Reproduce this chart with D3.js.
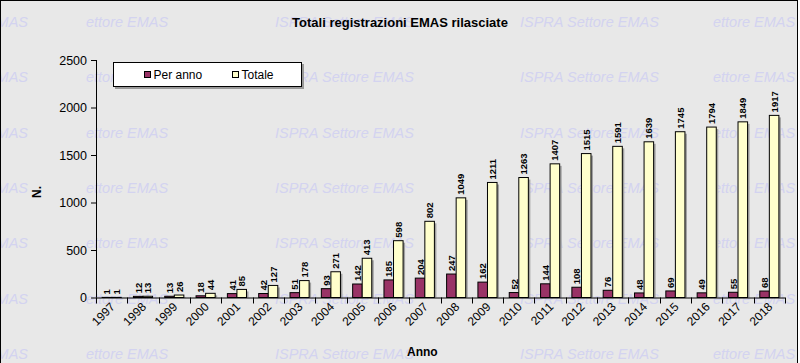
<!DOCTYPE html>
<html>
<head>
<meta charset="utf-8">
<script src="https://cdn.jsdelivr.net/npm/d3@7"></script>
<style>
  body { margin: 0; background: #fff; }
  svg { display: block; font-family: "Liberation Sans", Arial, sans-serif; }
</style>
</head>
<body>
<script>
const years = ["1997", "1998", "1999", "2000", "2001", "2002", "2003", "2004", "2005", "2006", "2007",
  "2008", "2009", "2010", "2011", "2012", "2013", "2014", "2015", "2016", "2017", "2018"];
const perAnno = [1, 12, 13, 18, 41, 42, 51, 93, 142, 185, 204, 247, 162, 52, 144, 108, 76, 48, 69, 49, 55, 68];
const totale = [1, 13, 26, 44, 85, 127, 178, 271, 413, 598, 802, 1049, 1211, 1263, 1407, 1515, 1591, 1639, 1745, 1794, 1849, 1917];
const yTicks = [0, 500, 1000, 1500, 2000, 2500];
const seriesNames = ["Per anno", "Totale"];

const width = 800, height = 363;
const colors = { "Per anno": "#993366", "Totale": "#ffffcc" };

const svg = d3.select("body").append("svg")
  .attr("width", width)
  .attr("height", height);

svg.append("rect")
  .attr("x", 0.5).attr("y", 0.5)
  .attr("width", width - 3).attr("height", height + 5)
  .attr("fill", "#e8e8e8")
  .attr("stroke", "#000");

// watermark (background decoration, clipped like the original tiles)
const wmRows = d3.range(7).map(i => 27 + i * 55.3);
const wmCols = [
  { x: 28, t: "ISPRA Settore EMAS", anchor: "end" },
  { x: 86, t: "ettore EMAS", anchor: "start" },
  { x: 275, t: "ISPRA Settore EMAS", anchor: "start" },
  { x: 520, t: "ISPRA Settore EMAS", anchor: "start" },
  { x: 713, t: "ettore EMAS", anchor: "start" }
];
svg.append("clipPath").attr("id", "frame")
  .append("rect").attr("x", 1).attr("y", 1).attr("width", width - 4).attr("height", height);
const wm = svg.append("g")
  .attr("clip-path", "url(#frame)")
  .attr("fill", "#d3d3f0")
  .attr("font-size", 14.5)
  .attr("font-style", "italic");
wmRows.forEach(y => {
  wmCols.forEach(c => {
    wm.append("text")
      .attr("x", c.x).attr("y", y)
      .attr("text-anchor", c.anchor)
      .text(c.t);
  });
});

const x0 = d3.scaleBand(years, [96, 785]);
const x1 = d3.scaleBand(seriesNames, [x0.bandwidth() * 0.195, x0.bandwidth() * 0.805]);
const y = d3.scaleLinear([0, 2500], [297.5, 60]);

// title
svg.append("text")
  .attr("x", 400).attr("y", 27)
  .attr("text-anchor", "middle")
  .attr("font-size", 13)
  .attr("font-weight", "bold")
  .text("Totali registrazioni EMAS rilasciate");

// bars
const rows = years.map((yr, i) => ({ year: yr, values: [
  { key: "Per anno", value: perAnno[i] },
  { key: "Totale", value: totale[i] }
] }));

const groups = svg.append("g")
  .selectAll("g")
  .data(rows)
  .join("g")
  .attr("transform", d => `translate(${x0(d.year)},0)`);

groups.selectAll("rect.shadow")
  .data(d => d.values)
  .join("rect")
  .attr("class", "shadow")
  .attr("x", d => x1(d.key) + 2)
  .attr("y", d => y(d.value) + 2)
  .attr("width", x1.bandwidth())
  .attr("height", d => Math.max(0, y(0) - y(d.value) - 2))
  .attr("fill", "#a0a0a0");

groups.selectAll("rect.bar")
  .data(d => d.values)
  .join("rect")
  .attr("class", "bar")
  .attr("x", d => x1(d.key))
  .attr("y", d => y(d.value))
  .attr("width", x1.bandwidth())
  .attr("height", d => y(0) - y(d.value))
  .attr("fill", d => colors[d.key])
  .attr("stroke", "#000")
  .attr("stroke-width", 1);

groups.selectAll("text")
  .data(d => d.values)
  .join("text")
  .attr("transform", d => `translate(${x1(d.key) + x1.bandwidth() / 2 + 3.5},${y(d.value) - 3}) rotate(-90)`)
  .attr("font-size", 9.5)
  .attr("font-weight", "bold")
  .text(d => d.value);

// y axis
const yAxis = d3.axisLeft(y).tickValues(yTicks).tickFormat(d3.format("d")).tickSize(5).tickPadding(4);
svg.append("g")
  .attr("transform", "translate(96,0)")
  .call(yAxis)
  .call(g => g.selectAll("text").attr("font-size", 12.5).attr("fill", "#000").attr("font-family", null))
  .call(g => g.selectAll("line,path").attr("stroke", "#000"))
  .call(g => g.select(".domain").attr("d", `M0.5,${y(2500)}V${y(0)}`));

// x axis with ticks at category boundaries
const xg = svg.append("g").attr("transform", `translate(0,${y(0)})`);
xg.append("line")
  .attr("x1", 96).attr("x2", 785)
  .attr("y1", 0.5).attr("y2", 0.5)
  .attr("stroke", "#000");
xg.selectAll("line.tick")
  .data(years.concat(["end"]))
  .join("line")
  .attr("class", "tick")
  .attr("x1", (d, i) => Math.round(x0.range()[0] + i * x0.step()) + 0.5)
  .attr("x2", (d, i) => Math.round(x0.range()[0] + i * x0.step()) + 0.5)
  .attr("y1", 0).attr("y2", 6)
  .attr("stroke", "#000");
xg.selectAll("text")
  .data(years)
  .join("text")
  .attr("transform", d => `translate(${x0(d) + x0.bandwidth() / 2 + 4},${10}) rotate(-45)`)
  .attr("text-anchor", "end")
  .attr("font-size", 12)
  .text(d => d);

// axis titles
svg.append("text")
  .attr("transform", "translate(41,192) rotate(-90)")
  .attr("text-anchor", "middle")
  .attr("font-size", 12)
  .attr("font-weight", "bold")
  .text("N.");
svg.append("text")
  .attr("x", 407).attr("y", 356)
  .attr("font-size", 12)
  .attr("font-weight", "bold")
  .text("Anno");

// legend
const legend = svg.append("g");
legend.append("rect")
  .attr("x", 115).attr("y", 64).attr("width", 189).attr("height", 25)
  .attr("fill", "#999");
legend.append("rect")
  .attr("x", 113.5).attr("y", 62.5).attr("width", 188).attr("height", 24)
  .attr("fill", "#fff").attr("stroke", "#000");
const legendX = [144.5, 232.5];
seriesNames.forEach((name, i) => {
  legend.append("rect")
    .attr("x", legendX[i]).attr("y", 71.5).attr("width", 6).attr("height", 6)
    .attr("fill", colors[name]).attr("stroke", "#000");
  legend.append("text")
    .attr("x", legendX[i] + 9).attr("y", 79)
    .attr("font-size", 12)
    .text(name);
});
</script>
</body>
</html>
